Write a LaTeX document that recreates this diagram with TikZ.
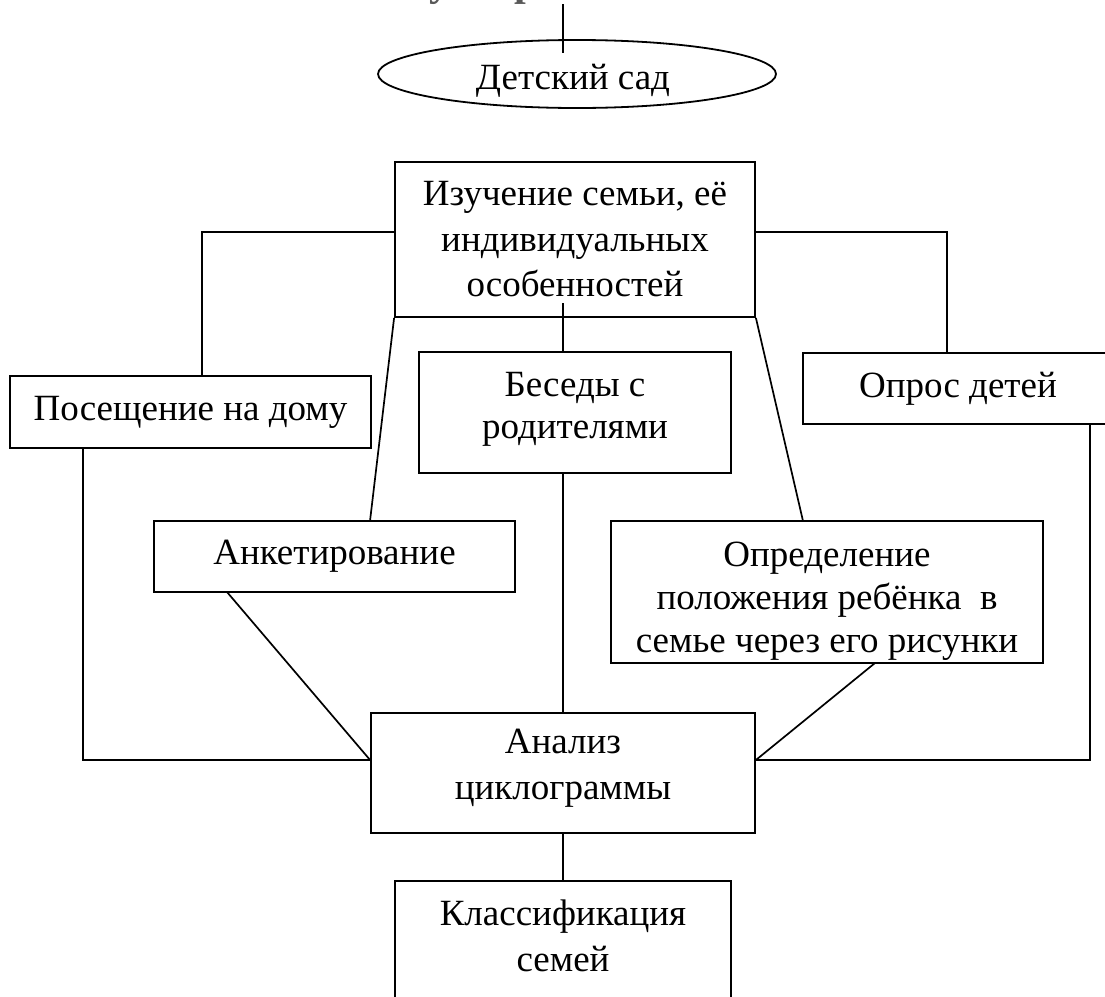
\documentclass[tikz,border=0pt]{standalone}
\usepackage{fontspec}
\setmainfont{Liberation Serif}
\usetikzlibrary{shapes.geometric,calc}
\tikzset{
  box/.style={draw, line width=1.8pt, rectangle, inner sep=0pt, align=center, font=\fontsize{37}{45.5}\selectfont},
  lbl/.style={inner sep=0pt, align=center, font=\fontsize{37}{45.5}\selectfont},
  conn/.style={line width=1.7pt},
  ghost/.style={inner sep=0pt, anchor=base, text=black!65, font=\fontsize{42}{48}\selectfont\bfseries}
}
\begin{document}
\begin{tikzpicture}[x=1pt,y=-1pt]
\useasboundingbox[fill=white] (0,0) rectangle (1105,996);
% cut-off title glyphs at the very top
\node[ghost] (g1) at (440,-5) {у};
\node[ghost] (g2) at (526,-5) {р};
% ellipse
\node[draw, line width=1.8pt, ellipse, minimum width=398pt, minimum height=68pt, inner sep=0pt] (sad) at (577,74) {};
\node[lbl] (sadt) at (573,81) {Детский сад};
% boxes
\node[box, minimum width=360pt, minimum height=155pt] (main) at (575,239.5) {Изучение семьи, её\\индивидуальных\\особенностей};
\node[box, minimum width=361pt, minimum height=72pt] (posesh) at (190.5,412) {Посещение на дому};
\node[box, minimum width=312pt, minimum height=121pt] (besedy) at (575,412.5) {};
\node[lbl, font=\fontsize{37}{42}\selectfont] (besedyt) at (575,409) {Беседы с\\родителями};
\node[box, minimum width=310pt, minimum height=71pt] (opros) at (958,388.5) {Опрос детей};
\node[box, minimum width=361pt, minimum height=71pt] (anket) at (334.5,556.5) {Анкетирование};
\node[box, minimum width=432pt, minimum height=142pt] (opred) at (827,592) {};
\begin{scope}
\clip (opred.south west) rectangle (opred.north east);
\node[lbl, font=\fontsize{37}{43}\selectfont] (opredt) at (827,601) {Определение\\положения ребёнка\ \ в\\семье через его рисунки};
\end{scope}
\node[box, minimum width=384pt, minimum height=120pt] (analiz) at (563,773) {};
\node[lbl] (analizt) at (563,768) {Анализ\\циклограммы};
\node[box, minimum width=336pt, minimum height=180pt, anchor=north] (klass) at (563,880) {};
\node[lbl] (klasst) at (563,936) {Классификация\\семей};
% named points
\coordinate (t1) at (563,4);
\coordinate (t2) at (563,53);
\coordinate (L) at (202,232);
\coordinate (R) at (947,232);
\coordinate (m1) at (563,303);
\coordinate (ak) at (370,521);
\coordinate (op) at (803,521);
\coordinate (pb) at (83,448);
\coordinate (ab) at (227,592);
\coordinate (ob) at (875,663);
\coordinate (rb) at (1090,424);
\coordinate (jn) at (0,760);
% connectors
\draw[conn] (t1) -- (t2);
\draw[conn] (L -| main.west) -- (L) -- (L |- posesh.north);
\draw[conn] (R -| main.east) -- (R) -- (R |- opros.north);
\draw[conn] (main.south west) -- (ak);
\draw[conn] (main.south east) -- (op);
\draw[conn] (m1) -- (m1 |- besedy.north);
\draw[conn] (m1 |- besedy.south) -- (m1 |- analiz.north);
\draw[conn] (m1 |- analiz.south) -- (m1 |- klass.north);
\draw[conn] (pb) -- (pb |- jn) -- (jn -| analiz.west);
\draw[conn] (ab) -- (jn -| analiz.west);
\draw[conn] (ob) -- (jn -| analiz.east);
\draw[conn] (rb) -- (rb |- jn) -- (jn -| analiz.east);
\end{tikzpicture}
\end{document}
